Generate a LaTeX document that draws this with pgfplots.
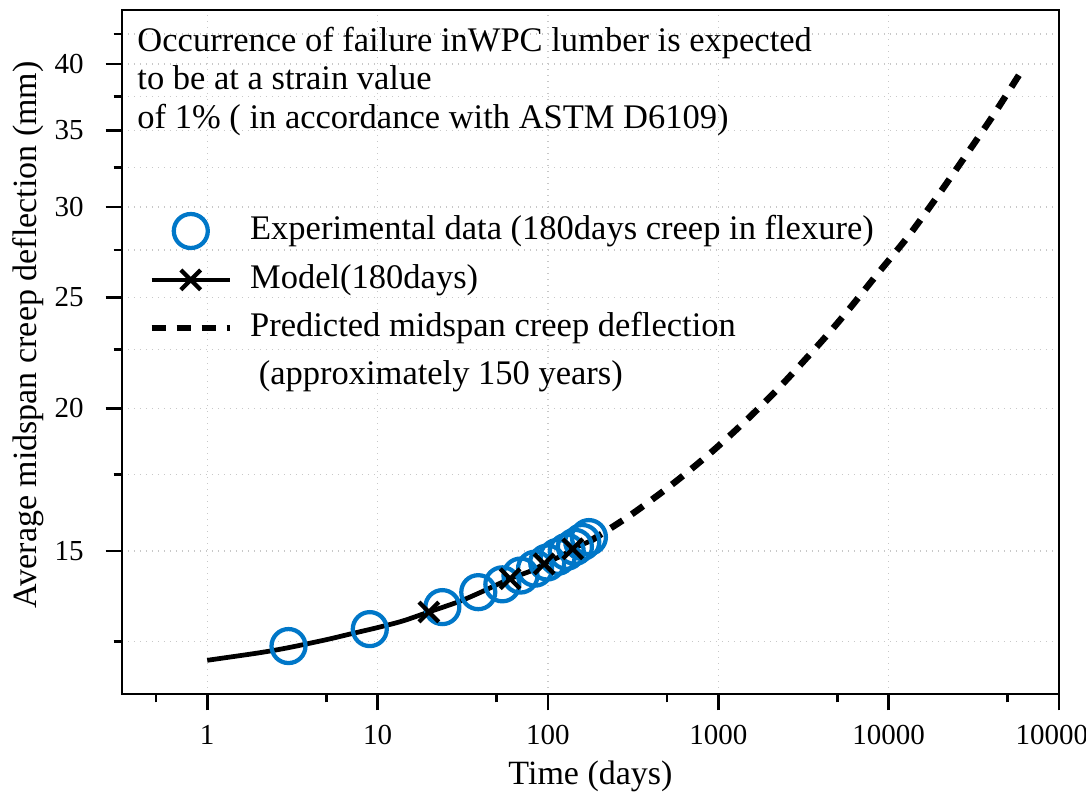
\documentclass[border=0pt]{standalone}
\usepackage{fontspec}
\setmainfont{Liberation Serif}
\usepackage{pgfplots}
\pgfplotsset{compat=1.18}
\definecolor{expblue}{RGB}{0,119,200}
\definecolor{gridgray}{RGB}{200,200,200}
\pgfplotsset{
  circlelegend/.style={legend image code/.code={\draw[##1] plot coordinates {(0.55cm,0cm)};}},
  marklinelegend/.style={legend image code/.code={%
    \draw[black, line width=1.8pt] (0cm,0cm) -- (1.1cm,0cm);
    \draw[black, line width=1.7pt, mark=x, mark size=5.6pt, only marks] plot coordinates {(0.55cm,0cm)};}},
  linelegend/.style={legend image code/.code={\draw[##1] plot coordinates {(0cm,0cm) (1.1cm,0cm)};}},
}

\begin{document}
\begin{tikzpicture}
\begin{axis}[
  name=ax,
  scale only axis,
  width=374.8pt, height=273.6pt,
  xmode=log, ymode=log,
  xmin=0.316, xmax=100000,
  ymin=11.25, ymax=44.6,
  xtick={1,10,100,1000,10000,100000},
  xticklabels={1,10,100,1000,10000,100000},
  minor xtick={0.5,5,50,500,5000,50000},
  ytick={15,20,25,30,35,40},
  yticklabels={15,20,25,30,35,40},
  minor ytick={12.5,17.5,22.5,27.5,32.5,37.5,42.5},
  xtick pos=bottom, ytick pos=left,
  tick align=outside,
  major tick length=6.6pt, minor tick length=3.4pt,
  every tick/.style={black, line width=1.1pt},
  axis line style={line width=1.0pt},
  xmajorgrids, ymajorgrids, yminorgrids,
  major grid style={gridgray, dotted, line width=0.5pt},
  minor grid style={gridgray, dotted, line width=0.5pt},
  /pgf/number format/assume math mode=true,
  tick label style={font=\fontsize{11.6}{13}\selectfont},
  xticklabel style={yshift=-2.4pt},
  yticklabel style={xshift=-5.2pt},
  xlabel={Time (days)},
  ylabel={Average midspan creep deflection (mm)},
  label style={font=\fontsize{13.6}{15}\selectfont},
  xlabel style={at={([yshift=-36.4pt]axis description cs:0.5,0)}, anchor=base},
  ylabel style={at={([xshift=-34pt]axis description cs:0,0.525)}, anchor=base},
  legend style={at={([xshift=-2pt, yshift=-4.8pt]axis description cs:0.033,0.72)}, anchor=north west,
    draw=none, fill=none, inner sep=0pt, column sep=6.8pt, row sep=6.3pt,
    font=\fontsize{13.8}{15}\selectfont,
    nodes={inner sep=0pt, text height=9.7pt, text depth=3.2pt}},
  legend cell align=left,
]
\addplot[only marks, color=expblue, mark=o, mark size=6.8pt,
  mark options={line width=1.7pt, draw=expblue}, circlelegend]
  coordinates {
  (3,12.39) (9,12.82) (24,13.40) (39,13.81) (54,14.03) (69,14.28) (84,14.48)
  (99,14.66) (114,14.83) (129,14.98) (144,15.13) (159,15.28) (174,15.43)
  };
\addlegendentry{Experimental data (180days creep in flexure)}

\addplot[black, line width=1.9pt, smooth, marklinelegend]
  coordinates {
  (1,12.04) (2,12.22) (3,12.35) (5,12.55) (7,12.70) (10,12.86) (14,13.03)
  (20,13.27) (30,13.55) (40,13.80) (60,14.19) (80,14.42) (95,14.62)
  (120,14.86) (140,15.07) (176,15.30)
  };
\addlegendentry{Model(180days)}

\addplot[black, line width=2.6pt, smooth, dash pattern=on 5.6pt off 4.4pt,
  linelegend]
  coordinates {
  (176,15.30) (300,16.10) (531,17.14) (892,18.26) (1463,19.53) (2349,20.95)
  (4100,22.94) (5770,24.35) (8650,26.24) (12970,28.25) (19040,30.55)
  (27300,33.00) (40960,36.05) (60300,39.45)
  };
\addlegendentry{Predicted midspan creep deflection}
\addlegendimage{empty legend}
\addlegendentry{\ (approximately 150 years)}

\addplot[only marks, black, mark=x, mark size=5.6pt,
  mark options={line width=1.7pt}, forget plot]
  coordinates {(20,13.27) (60,14.19) (95,14.62) (140,15.07)};

\node[anchor=north west, align=left, inner sep=0pt,
  font=\fontsize{13.8}{15.4}\selectfont]
  at ([xshift=6pt, yshift=-6.6pt]rel axis cs:0,1)
  {Occurrence of failure inWPC lumber is expected\\
   to be at a strain value\\
   of 1\% ( in accordance with ASTM D6109)};
\end{axis}
\pgfresetboundingbox
\path ([xshift=-48.8pt, yshift=-41.2pt]ax.south west) rectangle ([xshift=10.8pt, yshift=4pt]ax.north east);
\end{tikzpicture}
\end{document}
